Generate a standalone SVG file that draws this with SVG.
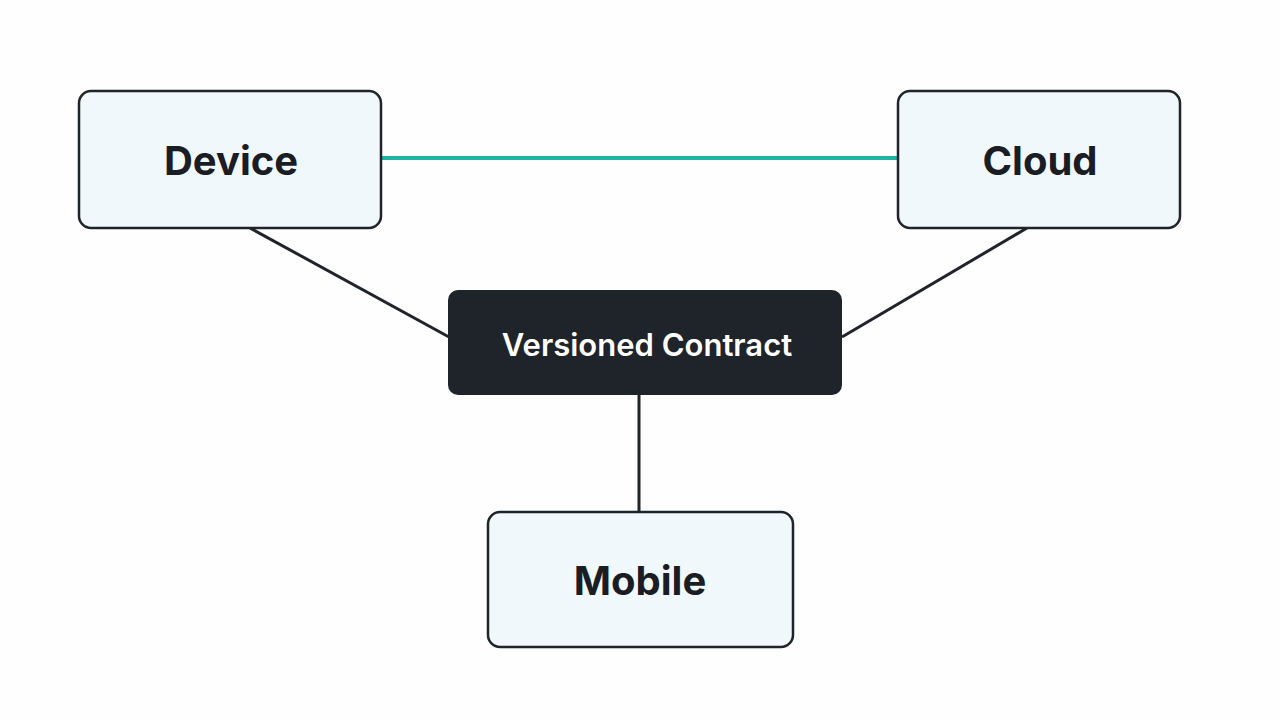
<svg xmlns="http://www.w3.org/2000/svg" width="1279" height="720" viewBox="0 0 1279 720">
<style>
.box{fill:#f0f8fb;stroke:#1f232a;stroke-width:2.5}
.lbl{font-family:Inter,"Liberation Sans",sans-serif;font-weight:700;font-size:40px;fill:#1a1d23;text-anchor:middle;dominant-baseline:central}
.ln{stroke:#1f232a;stroke-width:3;fill:none}
</style>
<rect width="1279" height="720" fill="#fefefe"/>
<g id="connectors">
<line x1="381" y1="158" x2="898" y2="158" stroke="#1fb3a6" stroke-width="4"/>
<line class="ln" x1="250" y1="228" x2="449" y2="337"/>
<line class="ln" x1="1027" y1="228" x2="842" y2="337"/>
<line class="ln" x1="639" y1="395" x2="639" y2="512"/>
</g>
<g id="device"><rect class="box" x="79" y="91" width="302" height="137" rx="12"/><text class="lbl" x="231" y="160">Device</text></g>
<g id="cloud"><rect class="box" x="898" y="91" width="282" height="137" rx="12"/><text class="lbl" x="1040" y="160">Cloud</text></g>
<g id="contract"><rect x="448" y="290" width="394" height="105" rx="10" fill="#1f232a"/><text class="lbl" x="647" y="344" style="fill:#fff;font-size:31px;font-weight:600">Versioned Contract</text></g>
<g id="mobile"><rect class="box" x="488" y="512" width="305" height="135" rx="12"/><text class="lbl" x="640" y="580">Mobile</text></g>
</svg>
